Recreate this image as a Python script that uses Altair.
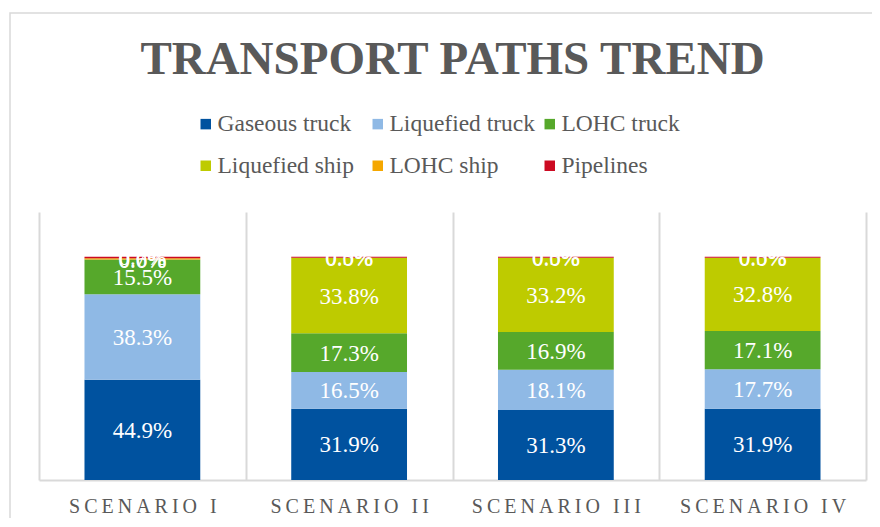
import altair as alt
import pandas as pd

scenarios = ["SCENARIO I", "SCENARIO II", "SCENARIO III", "SCENARIO IV"]
modes = ["Gaseous truck", "Liquefied truck", "LOHC truck", "Liquefied ship", "LOHC ship", "Pipelines"]
colors = ["#00529F", "#8FB9E5", "#56A82B", "#BECB00", "#F5A700", "#CC0A22"]

gaseous_truck = [44.9, 31.9, 31.3, 31.9]
liquefied_truck = [38.3, 16.5, 18.1, 17.7]
lohc_truck = [15.5, 17.3, 16.9, 17.1]
liquefied_ship = [0.0, 33.8, 33.2, 32.8]
lohc_ship = [0.6, 0.0, 0.0, 0.0]
pipelines = [0.7, 0.5, 0.5, 0.5]

series = [gaseous_truck, liquefied_truck, lohc_truck, liquefied_ship, lohc_ship, pipelines]
rows = []
for k, (mode, vals) in enumerate(zip(modes, series)):
    for s, v in zip(scenarios, vals):
        rows.append({"scenario": s, "mode": mode, "order": k, "share": v / 100.0})
df = pd.DataFrame(rows)

FONT = "Liberation Serif"
GRAY = "#595959"
LINE = "#D9D9D9"

yscale = alt.Scale(domain=[0, 1.2])
xscale = alt.Scale(paddingInner=0, paddingOuter=0)

base = alt.Chart(df)

bars = base.mark_bar(width=alt.RelativeBandSize(0.56)).encode(
    x=alt.X("scenario:N", sort=scenarios, scale=xscale, title=None,
            axis=alt.Axis(tickBand="extent", grid=True, gridColor=LINE, gridWidth=2,
                          ticks=False, domainColor=LINE, domainWidth=2,
                          labelFont=FONT, labelFontSize=20, labelColor=GRAY,
                          labelPadding=16, labelAngle=0,
                          labelExpr="join(split(datum.label, ''), '\u2009')")),
    y=alt.Y("share:Q", stack="zero", scale=yscale, axis=None),
    color=alt.Color("mode:N", sort=modes, scale=alt.Scale(domain=modes, range=colors),
                    legend=alt.Legend(orient="none", legendX=155, legendY=-100, columns=3,
                                      direction="horizontal",
                                      gridAlign="all", title=None, symbolType="square",
                                      symbolSize=110, symbolStrokeWidth=0,
                                      labelFont=FONT, labelFontSize=23.5, labelColor=GRAY,
                                      labelOffset=0, columnPadding=2, rowPadding=17)),
    order=alt.Order("order:Q", sort="ascending"),
)

labels = base.transform_window(
    cum="sum(share)", sort=[alt.SortField("order", order="ascending")],
    groupby=["scenario"], frame=[None, 0]
).transform_calculate(
    mid="datum.cum - datum.share / 2"
).mark_text(font=FONT, fontSize=23, color="white", baseline="middle", dy=1).encode(
    x=alt.X("scenario:N", sort=scenarios, scale=xscale),
    y=alt.Y("mid:Q", scale=yscale),
    text=alt.Text("share:Q", format=".1%"),
)

frame = alt.Chart(alt.Data(values=[{}])).mark_rect(
    fill=None, stroke=LINE, strokeWidth=1.5
).encode(
    x=alt.value(-29), x2=alt.value(900), y=alt.value(-199), y2=alt.value(400)
)

chart = alt.layer(frame, bars, labels).properties(
    width=827, height=268,
    title=alt.TitleParams("TRANSPORT PATHS TREND", font=FONT, fontSize=47,
                          fontWeight="bold", color=GRAY, anchor="middle", offset=-72),
    autosize=alt.AutoSizeParams(type="none"),
    padding={"left": 31, "top": 204, "right": 6, "bottom": 38},
).configure_view(stroke=None)

chart.save("out.html", embed_options={"renderer": "svg", "actions": False})
